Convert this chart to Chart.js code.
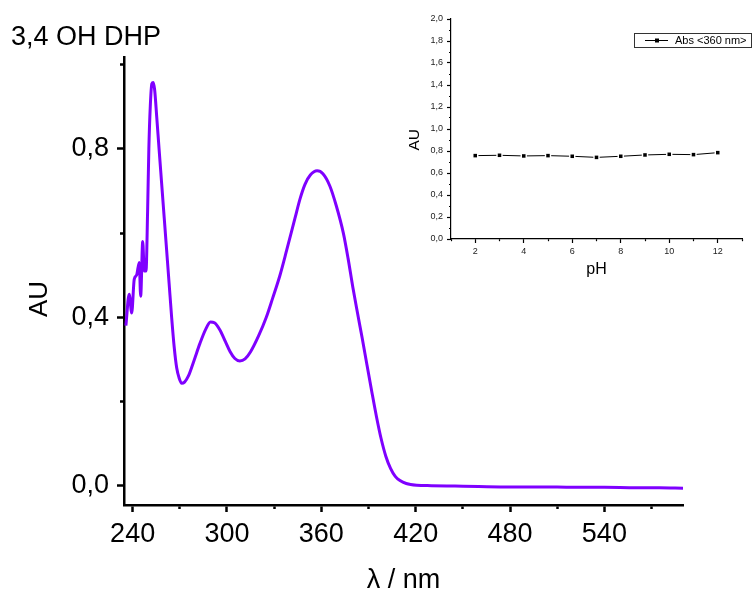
<!DOCTYPE html>
<html>
<head>
<meta charset="utf-8">
<script src="https://cdn.jsdelivr.net/npm/chart.js@4.4.0/dist/chart.umd.min.js"></script>
<style>
  html, body { margin: 0; padding: 0; background: #fff; }
  #wrap { position: relative; width: 753px; height: 592px; }
  #mainChart { position: absolute; left: 0; top: 0; }
  #insetChart { position: absolute; left: 390px; top: 0; }
</style>
</head>
<body>
<div id="wrap">
  <canvas id="mainChart" width="753" height="592"></canvas>
  <canvas id="insetChart" width="363" height="300"></canvas>
</div>
<script>
// spectrum of 3,4 OH DHP
const wavelength = [235.7, 237.8, 239.4, 241.0, 242.5, 244.2, 245.1, 246.4, 247.4, 248.5,
  249.5, 250.3, 251.2, 252.2, 253.1, 254.0, 255.3, 256.8, 258.4, 260.0,
  261.6, 263.2, 264.8, 266.4, 268.0, 269.6, 271.2, 273.0, 275.4, 279.0,
  282.8, 286.5, 289.5, 292.0, 295.5, 299.0, 302.0, 305.0, 308.2, 311.5,
  315.0, 320.0, 325.0, 329.0, 333.7, 338.0, 343.2, 346.5, 349.6, 353.0,
  357.3, 361.0, 365.4, 369.5, 374.0, 377.0, 380.0, 383.0, 386.0, 389.0,
  392.0, 395.0, 398.0, 401.0, 404.0, 407.0, 410.0, 414.0, 420.7,
  430, 445, 460, 480, 500, 520, 540, 560, 575, 590];
const absorbance = [0.38, 0.455, 0.41, 0.49, 0.50, 0.53, 0.45, 0.58, 0.51, 0.51,
  0.65, 0.80, 0.90, 0.955, 0.958, 0.94, 0.877, 0.80, 0.72, 0.64,
  0.56, 0.48, 0.40, 0.33, 0.28, 0.255, 0.243, 0.246, 0.26, 0.297,
  0.338, 0.372, 0.389, 0.387, 0.37, 0.342, 0.318, 0.302, 0.296, 0.301,
  0.318, 0.355, 0.40, 0.445, 0.50, 0.56, 0.635, 0.682, 0.716, 0.738,
  0.748, 0.741, 0.712, 0.665, 0.60, 0.54, 0.472, 0.41, 0.35, 0.287,
  0.225, 0.165, 0.112, 0.07, 0.041, 0.022, 0.012, 0.005, 0.001,
  0.0, -0.001, -0.002, -0.003, -0.003, -0.004, -0.004, -0.005, -0.005, -0.006];

const mainXTicks = [240, 270, 300, 330, 360, 390, 420, 450, 480, 510, 540, 570];
const mainXLabels = [240, 300, 360, 420, 480, 540];
const mainYTicks = [0, 0.2, 0.4, 0.6, 0.8, 1.0];
const mainYLabels = [0, 0.4, 0.8];

// inset: absorbance at 360 nm vs pH
const pH = [2, 3, 4, 5, 6, 7, 8, 9, 10, 11, 12];
const abs360 = [0.758, 0.761, 0.755, 0.758, 0.752, 0.742, 0.752, 0.764, 0.770, 0.767, 0.785];
const insetXTicks = [1, 2, 3, 4, 5, 6, 7, 8, 9, 10, 11, 12, 13];
const insetXLabels = [2, 4, 6, 8, 10, 12];
const insetYTicks = [0, 0.1, 0.2, 0.3, 0.4, 0.5, 0.6, 0.7, 0.8, 0.9, 1.0,
  1.1, 1.2, 1.3, 1.4, 1.5, 1.6, 1.7, 1.8, 1.9, 2.0];
const insetYLabels = [0, 0.2, 0.4, 0.6, 0.8, 1.0, 1.2, 1.4, 1.6, 1.8, 2.0];

const FONT = '"Liberation Sans", Arial, Helvetica, sans-serif';

function has(list, v) {
  return list.some(l => Math.abs(l - v) < 1e-6);
}
function comma(v) {
  return v.toFixed(1).replace('.', ',');
}
function setTicks(list) {
  return (scale) => { scale.ticks = list.map(v => ({ value: v })); };
}
function fixSize(w, h) {
  return (scale) => {
    if (w !== null) scale.width = w;
    if (h !== null) scale.height = h;
    scale.paddingTop = scale.paddingBottom = scale.paddingLeft = scale.paddingRight = 0;
  };
}

new Chart(document.getElementById('mainChart'), {
  type: 'line',
  data: {
    datasets: [{
      label: '3,4 OH DHP',
      data: wavelength.map((x, i) => ({ x: x, y: absorbance[i] })),
      borderColor: '#7f00ff',
      borderWidth: 3,
      pointRadius: 0,
      cubicInterpolationMode: 'monotone',
      fill: false
    }]
  },
  options: {
    responsive: false,
    animation: false,
    layout: { padding: { left: 11, right: 70, top: 0, bottom: 0 } },
    plugins: {
      legend: { display: false },
      tooltip: { enabled: false },
      title: {
        display: true,
        text: '3,4 OH DHP',
        align: 'start',
        color: '#000',
        font: { family: FONT, size: 27, weight: 'normal', lineHeight: 1.2 },
        padding: { top: 21, bottom: 3.6 }
      }
    },
    scales: {
      x: {
        type: 'linear',
        min: 234.5,
        max: 590,
        afterBuildTicks: setTicks(mainXTicks),
        afterFit: fixSize(null, 87),
        border: { display: true, color: '#000', width: 2.5 },
        grid: {
          drawOnChartArea: false,
          drawTicks: true,
          tickLength: 7,
          tickColor: '#000',
          tickWidth: 2.5,
          tickBorderDash: (c) => has(mainXLabels, c.tick.value) ? [] : [2.5, 100]
        },
        ticks: {
          autoSkip: false,
          maxRotation: 0,
          minRotation: 0,
          padding: 6,
          color: '#000',
          font: { family: FONT, size: 27 },
          callback: (v) => has(mainXLabels, v) ? String(v) : ''
        },
        title: {
          display: true,
          text: 'λ / nm',
          color: '#000',
          font: { family: FONT, size: 27, lineHeight: 1 },
          padding: { top: 0, bottom: -2 }
        }
      },
      y: {
        type: 'linear',
        min: -0.046,
        max: 1.0185,
        afterBuildTicks: setTicks(mainYTicks),
        afterFit: fixSize(113, null),
        border: { display: true, color: '#000', width: 2.5 },
        grid: {
          drawOnChartArea: false,
          drawTicks: true,
          tickLength: 7,
          tickColor: '#000',
          tickWidth: 2.5,
          tickBorderDash: (c) => has(mainYLabels, c.tick.value) ? [] : [0, 3, 10, 100]
        },
        ticks: {
          autoSkip: false,
          padding: 8,
          color: '#000',
          font: { family: FONT, size: 27 },
          callback: (v) => has(mainYLabels, v) ? comma(v) : ''
        },
        title: {
          display: true,
          text: 'AU     ',
          color: '#000',
          font: { family: FONT, size: 26, lineHeight: 1 },
          padding: { top: 16, bottom: 0 }
        }
      }
    }
  }
});

// legend box of the inset, drawn like the original plotting program does it
const insetLegend = {
  id: 'insetLegend',
  afterDraw(chart) {
    const ctx = chart.ctx;
    const x0 = 244, y0 = 33;
    ctx.save();
    ctx.strokeStyle = '#333';
    ctx.lineWidth = 1;
    ctx.strokeRect(x0 + 0.5, y0 + 0.5, 117, 14);
    ctx.strokeStyle = '#000';
    ctx.beginPath();
    ctx.moveTo(x0 + 11, y0 + 7.5);
    ctx.lineTo(x0 + 34, y0 + 7.5);
    ctx.stroke();
    ctx.fillStyle = '#000';
    ctx.fillRect(x0 + 21, y0 + 5.5, 4, 4);
    ctx.font = '11px ' + FONT;
    ctx.textBaseline = 'middle';
    ctx.fillText(chart.data.datasets[0].label, x0 + 41, y0 + 8);
    ctx.restore();
  }
};

const insetPoints = pH.map((x, i) => ({ x: x, y: abs360[i] }));

new Chart(document.getElementById('insetChart'), {
  type: 'line',
  data: {
    datasets: [{
      label: 'Abs <360 nm>',
      data: insetPoints,
      showLine: false,
      pointStyle: 'rect',
      pointRadius: 2.5,
      pointBackgroundColor: '#000',
      pointBorderWidth: 0,
      order: 0
    }, {
      label: 'line',
      data: insetPoints,
      borderColor: '#000',
      borderWidth: 1,
      tension: 0,
      pointStyle: 'rect',
      pointRadius: 4.5,
      pointBackgroundColor: '#fff',
      pointBorderWidth: 0,
      order: 1
    }]
  },
  options: {
    responsive: false,
    animation: false,
    layout: { padding: { left: 0, right: 11, top: 19, bottom: 0 } },
    plugins: {
      legend: { display: false },
      tooltip: { enabled: false },
      title: { display: false }
    },
    scales: {
      x: {
        type: 'linear',
        min: 1,
        max: 13,
        afterBuildTicks: setTicks(insetXTicks),
        afterFit: fixSize(null, 61),
        border: { display: true, color: '#000', width: 1.2 },
        grid: {
          drawOnChartArea: false,
          drawTicks: true,
          tickLength: 4,
          tickColor: '#000',
          tickWidth: 1.2,
          tickBorderDash: (c) => has(insetXLabels, c.tick.value) ? [] : [2, 100]
        },
        ticks: {
          autoSkip: false,
          maxRotation: 0,
          minRotation: 0,
          padding: 3,
          color: '#222',
          font: { family: FONT, size: 9 },
          callback: (v) => has(insetXLabels, v) ? String(v) : ''
        },
        title: {
          display: true,
          text: 'pH',
          color: '#000',
          font: { family: FONT, size: 16, lineHeight: 1 },
          padding: { top: 0, bottom: 22 }
        }
      },
      y: {
        type: 'linear',
        min: 0,
        max: 2,
        afterBuildTicks: setTicks(insetYTicks),
        afterFit: fixSize(61, null),
        border: { display: true, color: '#000', width: 1.2 },
        grid: {
          drawOnChartArea: false,
          drawTicks: true,
          tickLength: 4,
          tickColor: '#000',
          tickWidth: 1.2,
          tickBorderDash: (c) => has(insetYLabels, c.tick.value) ? [] : [0, 2, 5, 100]
        },
        ticks: {
          autoSkip: false,
          padding: 4,
          color: '#222',
          font: { family: FONT, size: 9 },
          callback: (v) => has(insetYLabels, v) ? comma(v) : ''
        },
        title: {
          display: true,
          text: 'AU     ',
          color: '#000',
          font: { family: FONT, size: 15.5, lineHeight: 1 },
          padding: { top: 17, bottom: 0 }
        }
      }
    }
  },
  plugins: [insetLegend]
});
</script>
</body>
</html>
